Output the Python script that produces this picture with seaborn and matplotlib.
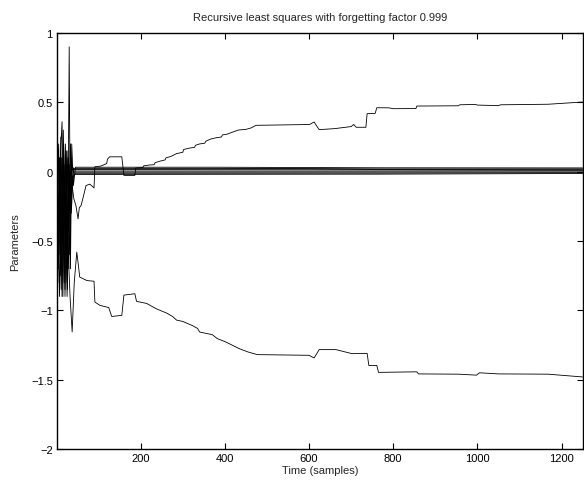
import numpy as np
import pandas as pd
import matplotlib
matplotlib.use('Agg')
import matplotlib.pyplot as plt
from matplotlib.ticker import FuncFormatter
import seaborn as sns

sns.set_style('white')
plt.rcParams['font.family'] = ['Liberation Sans', 'DejaVu Sans']

# parameter traces, (sample, value) breakpoints
up_t = [1, 5, 9, 13, 17, 21, 25, 29, 33, 37, 41, 46, 51, 54, 58, 62, 66, 70, 79, 89, 91, 105, 119, 121,
        126, 155, 160, 186, 188, 205, 207, 221, 232, 234, 245, 258, 260, 272, 285, 300, 302, 316, 328,
        330, 340, 352, 355, 366, 380, 392, 394, 405, 418, 432, 450, 462, 474, 601, 612, 618, 624, 660,
        700, 706, 712, 735, 738, 757, 761, 790, 800, 854, 856, 955, 958, 995, 1000, 1050, 1055, 1168, 1250]
up_v = [0.0, -0.3, 0.1, -0.5, 0.2, -0.6, 0.15, -0.4, 0.2, -0.1, -0.195, -0.245, -0.34, -0.26, -0.245,
        -0.2, -0.15, -0.1, -0.09, -0.117, 0.035, 0.04, 0.058, 0.09, 0.107, 0.107, -0.027, -0.027, 0.026,
        0.03, 0.042, 0.048, 0.05, 0.065, 0.075, 0.085, 0.1, 0.11, 0.13, 0.14, 0.16, 0.17, 0.175, 0.19,
        0.2, 0.205, 0.22, 0.235, 0.245, 0.25, 0.265, 0.27, 0.285, 0.3, 0.305, 0.315, 0.334, 0.34, 0.358,
        0.33, 0.303, 0.31, 0.325, 0.34, 0.32, 0.32, 0.418, 0.42, 0.461, 0.46, 0.454, 0.455, 0.473, 0.475,
        0.482, 0.485, 0.48, 0.476, 0.482, 0.486, 0.502]

lo_t = [1, 4, 8, 12, 16, 20, 24, 28, 32, 37, 42, 48, 52, 55, 72, 89, 91, 103, 124, 131, 155, 160, 186,
        190, 214, 238, 262, 276, 285, 300, 323, 335, 340, 370, 382, 400, 415, 434, 455, 477, 600, 612,
        624, 664, 702, 738, 742, 761, 765, 856, 860, 955, 998, 1005, 1050, 1168, 1250]
lo_v = [0.0, -0.5, 0.1, -0.7, -0.2, -0.85, -0.3, -0.6, -0.9, -1.155, -0.8, -0.58, -0.68, -0.76, -0.785,
        -0.79, -0.94, -0.964, -0.98, -1.044, -1.036, -0.89, -0.88, -0.935, -0.95, -0.99, -1.02, -1.045,
        -1.07, -1.08, -1.11, -1.13, -1.156, -1.175, -1.204, -1.225, -1.247, -1.276, -1.3, -1.319, -1.324,
        -1.343, -1.283, -1.283, -1.312, -1.31, -1.397, -1.397, -1.447, -1.443, -1.458, -1.46, -1.467,
        -1.45, -1.458, -1.46, -1.48]

s1_t = [1, 4, 8, 13, 17, 22, 26, 30, 33, 36, 40, 45, 380, 760, 1250]
s1_v = [0.12, -0.4, 0.05, 0.36, -0.6, 0.1, -0.85, 0.9, -0.7, 0.2, -0.1, 0.032, 0.032, 0.028, 0.027]
s2_t = [1, 5, 9, 14, 18, 23, 27, 31, 35, 40, 380, 760, 1250]
s2_v = [-0.1, 0.2, -0.75, -0.1, -0.8, 0.15, -0.5, 0.05, -0.3, 0.024, 0.024, 0.02, 0.02]
s3_t = [1, 6, 10, 15, 19, 24, 28, 34, 40, 760, 1250]
s3_v = [0.05, -0.6, 0.25, -0.9, -0.1, -0.7, 0.1, -0.2, 0.014, 0.013, 0.01]
s4_t = [1, 5, 11, 16, 20, 26, 31, 36, 42, 760, 1250]
s4_v = [-0.2, 0.1, -0.85, 0.3, -0.4, 0.05, -0.6, 0.02, 0.004, 0.004, 0.005]
s5_t = [1, 7, 12, 17, 21, 25, 29, 34, 40, 1250]
s5_v = [0.0, -0.9, 0.1, -0.5, 0.2, -0.8, -0.1, 0.1, -0.004, -0.003]
s6_t = [1, 6, 10, 15, 20, 24, 29, 33, 38, 44, 760, 1250]
s6_v = [-0.4, 0.05, -0.6, 0.1, -0.9, -0.2, -0.7, 0.0, -0.05, -0.012, -0.011, -0.008]
s7_t = [1, 5, 9, 13, 18, 22, 27, 32, 37, 43, 760, 1250]
s7_v = [0.1, -0.7, -0.1, -0.9, 0.05, -0.45, 0.1, -0.35, -0.05, -0.02, -0.018, -0.013]
s8_t = [1, 3, 7, 12, 16, 21, 25, 30, 35, 41, 600, 760, 1250]
s8_v = [-0.05, -0.8, 0.1, -0.6, 0.05, -0.3, -0.9, -0.1, 0.05, 0.018, 0.02, 0.016, 0.017]

series = {'a1': (up_t, up_v), 'a2': (lo_t, lo_v), 'b1': (s1_t, s1_v), 'b2': (s2_t, s2_v),
          'b3': (s3_t, s3_v), 'b4': (s4_t, s4_v), 'b5': (s5_t, s5_v), 'b6': (s6_t, s6_v),
          'b7': (s7_t, s7_v), 'b8': (s8_t, s8_v)}

frames = []
for name, (t, v) in series.items():
    frames.append(pd.DataFrame({'time': t, 'value': v, 'param': name}))
df = pd.concat(frames, ignore_index=True)

fig = plt.figure(figsize=(5.84, 4.85), dpi=100)
ax = fig.add_axes([0.0976, 0.072, 0.9, 0.858])
sns.lineplot(data=df, x='time', y='value', units='param', estimator=None, sort=False,
             color='black', lw=0.6, ax=ax)

ax.set_xlim(1, 1250)
ax.set_ylim(-2, 1)
ax.set_xticks([200, 400, 600, 800, 1000, 1200])
ax.set_yticks([-2, -1.5, -1, -0.5, 0, 0.5, 1])
ax.yaxis.set_major_formatter(FuncFormatter(lambda y, p: ('%g' % y).replace('-', '\u2212')))
ax.tick_params(direction='in', length=4, width=0.8, labelsize=8, top=True, right=True,
               bottom=True, left=True, colors='black', pad=3)
for s in ax.spines.values():
    s.set_color('black')
    s.set_linewidth(1.0)
ax.set_xlabel('Time (samples)', fontsize=8, labelpad=1)
ax.set_ylabel('Parameters', fontsize=8, labelpad=8)
ax.set_title('Recursive least squares with forgetting factor 0.999', fontsize=8, pad=9)

fig.savefig('out.png', dpi=100)
